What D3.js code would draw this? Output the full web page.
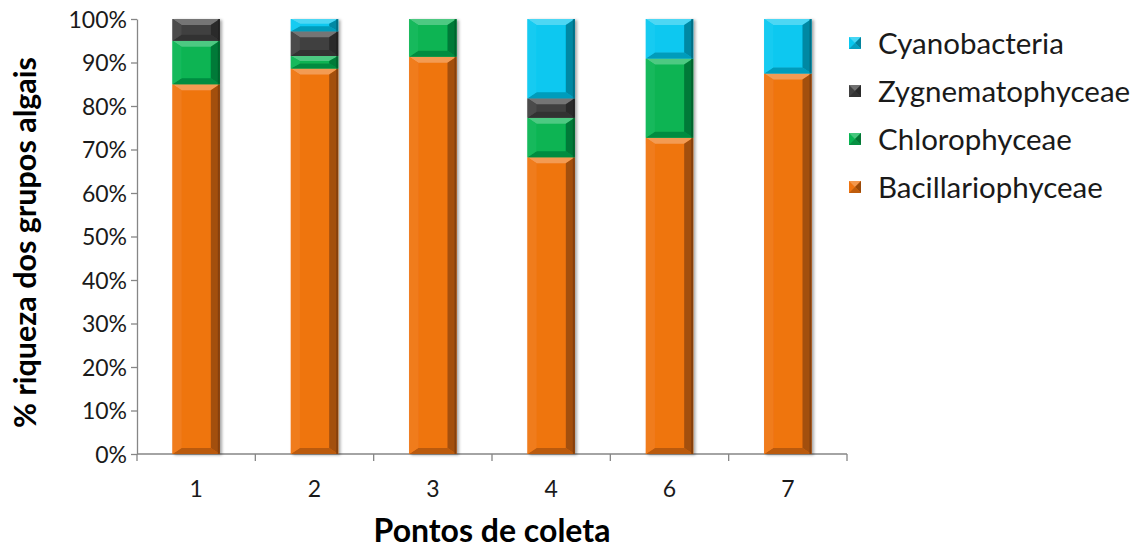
<!DOCTYPE html>
<html>
<head>
<meta charset="utf-8">
<script src="https://cdn.jsdelivr.net/npm/d3@7"></script>
<style>
  html, body { margin: 0; padding: 0; background: #fff; }
  svg { display: block; font-family: Lato, "Open Sans", sans-serif; }
</style>
</head>
<body>
<svg id="chart" width="1140" height="548"></svg>
<script>
// Sampling points (Pontos de coleta)
const pontos = ["1", "2", "3", "4", "6", "7"];

// Share of richness per algal group, in percent
const bacillariophyceae = [85.0, 88.6, 91.3, 68.2, 72.7, 87.5];
const chlorophyceae     = [10.0,  2.9,  8.7,  9.1, 18.2,  0.0];
const zygnematophyceae  = [ 5.0,  5.7,  0.0,  4.5,  0.0,  0.0];
const cyanobacteria     = [ 0.0,  2.8,  0.0, 18.2,  9.1, 12.5];

const groupNames  = ["Bacillariophyceae", "Chlorophyceae", "Zygnematophyceae", "Cyanobacteria"];
const groupColors = ["#ef7410", "#08b452", "#404040", "#08c8f0"];
const yTicks = [0, 10, 20, 30, 40, 50, 60, 70, 80, 90, 100];

const rows = pontos.map((p, i) => ({
  ponto: p,
  Bacillariophyceae: bacillariophyceae[i],
  Chlorophyceae: chlorophyceae[i],
  Zygnematophyceae: zygnematophyceae[i],
  Cyanobacteria: cyanobacteria[i]
}));

const svg = d3.select("#chart");
const margin = { left: 137, right: 293, top: 19, bottom: 94 };
const W = 1140, H = 548;

const x = d3.scaleBand().domain(pontos)
  .range([margin.left, W - margin.right])
  .paddingInner(0.6).paddingOuter(0.3);
const xOuter = d3.scaleBand().domain(pontos).range([margin.left, W - margin.right]);
const y = d3.scaleLinear().domain([0, 100]).range([H - margin.bottom, margin.top]);
const color = d3.scaleOrdinal().domain(groupNames).range(groupColors);

const series = d3.stack().keys(groupNames)(rows);

// Soft shadow behind the bars
const defs = svg.append("defs");
const f = defs.append("filter").attr("id", "shadow")
  .attr("x", "-20%").attr("y", "-5%").attr("width", "140%").attr("height", "110%");
f.append("feDropShadow").attr("dx", 2).attr("dy", 1)
  .attr("stdDeviation", 1.8).attr("flood-color", "#000").attr("flood-opacity", 0.35);

// Axes
const axisColor = "#868686";
const yAxis = svg.append("g").attr("transform", `translate(${margin.left},0)`)
  .call(d3.axisLeft(y).tickValues(yTicks).tickFormat(d => d + "%").tickSize(6).tickSizeOuter(0));
yAxis.select(".domain").attr("stroke", axisColor).attr("stroke-width", 1.3);
yAxis.selectAll(".tick line").attr("stroke", axisColor).attr("stroke-width", 1.3);
yAxis.selectAll(".tick text").attr("x", -10).attr("dy", "0.36em")
  .attr("font-family", "Lato, 'Open Sans', sans-serif")
  .attr("font-size", 23).attr("fill", "#1a1a1a");

const xAxisG = svg.append("g").attr("transform", `translate(0,${H - margin.bottom})`);
xAxisG.append("line")
  .attr("x1", margin.left).attr("x2", W - margin.right)
  .attr("stroke", axisColor).attr("stroke-width", 1.3);
const boundaries = pontos.map(p => xOuter(p)).concat([W - margin.right]);
xAxisG.selectAll("line.tk").data(boundaries).join("line").attr("class", "tk")
  .attr("x1", d => d).attr("x2", d => d).attr("y1", 0).attr("y2", 7)
  .attr("stroke", axisColor).attr("stroke-width", 1.3);
xAxisG.selectAll("text").data(pontos).join("text")
  .attr("x", d => x(d) + x.bandwidth() / 2).attr("y", 43)
  .attr("text-anchor", "middle").attr("font-size", 23).attr("fill", "#1a1a1a")
  .text(d => d);

// Bevelled segment: centre face plus four sloped edges
function bevel(g, x0, y0, w, h, base) {
  if (h <= 0.2) return;
  const x1 = x0 + w, y1 = y0 + h;
  const bx = Math.min(9, w / 2), by = Math.min(6, h / 2.5);
  const top = d3.interpolateRgb(base, "#fff")(0.28);
  const left = d3.interpolateRgb(base, "#fff")(0.06);
  const right = d3.interpolateRgb(base, "#000")(0.32);
  const bottom = d3.interpolateRgb(base, "#000")(0.22);
  const poly = (pts, fill) => g.append("polygon")
    .attr("points", pts.map(p => p.join(",")).join(" ")).attr("fill", fill);
  poly([[x0, y0], [x1, y0], [x1, y1], [x0, y1]], base);
  poly([[x0, y0], [x1, y0], [x1 - bx, y0 + by], [x0 + bx, y0 + by]], top);
  poly([[x0, y1], [x1, y1], [x1 - bx, y1 - by], [x0 + bx, y1 - by]], bottom);
  poly([[x0, y0], [x0 + bx, y0 + by], [x0 + bx, y1 - by], [x0, y1]], left);
  poly([[x1, y0], [x1 - bx, y0 + by], [x1 - bx, y1 - by], [x1, y1]], right);
  // thin dark rim on the right edge
  g.append("rect").attr("x", x1 - 2).attr("y", y0).attr("width", 2).attr("height", h)
    .attr("fill", d3.interpolateRgb(base, "#000")(0.5)).attr("opacity", 0.7);
}

const barsG = svg.append("g").attr("filter", "url(#shadow)");
series.forEach(s => {
  s.forEach(d => {
    const g = barsG.append("g");
    bevel(g, x(d.data.ponto), y(d[1]), x.bandwidth(), y(d[0]) - y(d[1]), color(s.key));
  });
});

// Legend (top entry is the top of the stack)
const legendOrder = groupNames.slice().reverse();
const lg = svg.append("g");
legendOrder.forEach((name, i) => {
  const cy = 43 + i * 48;
  const g = lg.append("g");
  const base = color(name);
  const s = 12, lx = 849, ly = cy - s / 2;
  g.append("rect").attr("x", lx).attr("y", ly).attr("width", s).attr("height", s).attr("fill", base);
  g.append("polygon")
    .attr("points", `${lx},${ly} ${lx + s},${ly} ${lx + s / 2},${ly + s / 2}`)
    .attr("fill", d3.interpolateRgb(base, "#fff")(0.25));
  g.append("polygon")
    .attr("points", `${lx + s},${ly} ${lx + s},${ly + s} ${lx + s / 2},${ly + s / 2}`)
    .attr("fill", d3.interpolateRgb(base, "#000")(0.35));
  g.append("polygon")
    .attr("points", `${lx},${ly + s} ${lx + s},${ly + s} ${lx + s / 2},${ly + s / 2}`)
    .attr("fill", d3.interpolateRgb(base, "#000")(0.2));
  g.append("text").attr("x", 878).attr("y", cy).attr("dy", "0.36em")
    .attr("font-size", 29.5).attr("fill", "#1a1a1a").text(name);
});

// Axis titles
svg.append("text")
  .attr("transform", `translate(36,${(y(0) + y(100)) / 2 + 6}) rotate(-90)`)
  .attr("text-anchor", "middle").attr("font-size", 30.5).attr("font-weight", "bold")
  .attr("fill", "#000").text("% riqueza dos grupos algais");
svg.append("text")
  .attr("x", 492).attr("y", 542)
  .attr("text-anchor", "middle").attr("font-size", 32).attr("font-weight", "bold")
  .attr("fill", "#000").text("Pontos de coleta");
</script>
</body>
</html>
